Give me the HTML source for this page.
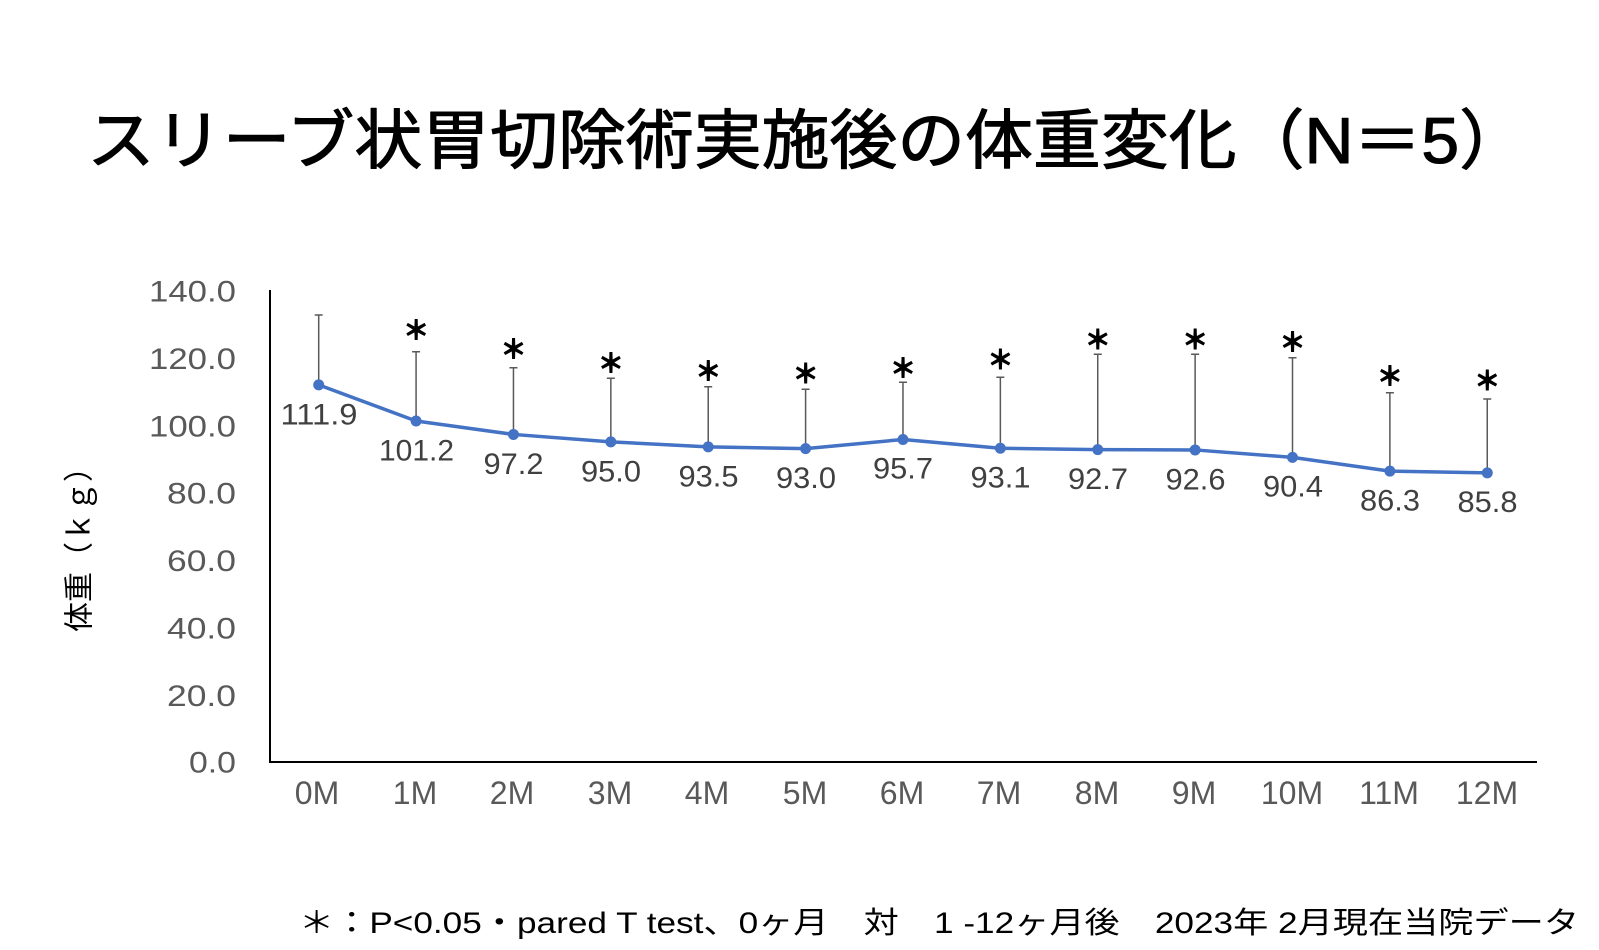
<!DOCTYPE html>
<html>
<head>
<meta charset="utf-8">
<style>
html,body{margin:0;padding:0;background:#fff;}
svg{display:block;}
text{font-family:"Liberation Sans","Noto Sans CJK JP",sans-serif;}
.tick{fill:#595959;font-size:30px;}
.dl{fill:#404040;font-size:30px;}
.ast{fill:#000;stroke:#000;stroke-width:1;font-size:26px;font-weight:bold;font-family:"Noto Sans CJK JP","Liberation Sans",sans-serif;}
</style>
</head>
<body>
<svg width="1599" height="950" viewBox="0 0 1599 950" xmlns="http://www.w3.org/2000/svg">
<rect width="1599" height="950" fill="#fff"/>

<!-- Title -->
<text x="87" y="163" font-size="65" font-weight="400" fill="#000" stroke="#000" stroke-width="1.1" stroke-linejoin="round" textLength="1440" lengthAdjust="spacingAndGlyphs">スリーブ状胃切除術実施後の体重変化（N＝5）</text>

<!-- Y axis label -->
<text transform="translate(80,542) rotate(-90)" text-anchor="middle" dominant-baseline="central" font-size="30" fill="#000" textLength="180" lengthAdjust="spacingAndGlyphs">体重（ｋｇ）</text>

<!-- Y tick labels -->
<g class="tick" text-anchor="end">
<text x="236" y="301.5" textLength="87" lengthAdjust="spacingAndGlyphs">140.0</text>
<text x="236" y="368.9" textLength="87" lengthAdjust="spacingAndGlyphs">120.0</text>
<text x="236" y="436.3" textLength="87" lengthAdjust="spacingAndGlyphs">100.0</text>
<text x="236" y="503.7" textLength="69" lengthAdjust="spacingAndGlyphs">80.0</text>
<text x="236" y="571.1" textLength="69" lengthAdjust="spacingAndGlyphs">60.0</text>
<text x="236" y="638.5" textLength="69" lengthAdjust="spacingAndGlyphs">40.0</text>
<text x="236" y="705.9" textLength="69" lengthAdjust="spacingAndGlyphs">20.0</text>
<text x="236" y="772.5" textLength="47" lengthAdjust="spacingAndGlyphs">0.0</text>
</g>

<!-- Axes -->
<line x1="270" y1="290" x2="270" y2="762" stroke="#000" stroke-width="2"/>
<line x1="269" y1="762" x2="1537" y2="762" stroke="#000" stroke-width="2"/>

<!-- X labels -->
<g class="tick" text-anchor="middle" style="font-size:32px">
<text x="317" y="804">0M</text>
<text x="415" y="804">1M</text>
<text x="512" y="804">2M</text>
<text x="610" y="804">3M</text>
<text x="707" y="804">4M</text>
<text x="805" y="804">5M</text>
<text x="902" y="804">6M</text>
<text x="999" y="804">7M</text>
<text x="1097" y="804">8M</text>
<text x="1194" y="804">9M</text>
<text x="1292" y="804">10M</text>
<text x="1389" y="804">11M</text>
<text x="1487" y="804">12M</text>
</g>

<!-- Error bars -->
<g stroke="#595959" stroke-width="1.5" fill="none">
<path d="M318.7 384.9V315M314.7 315H322.7"/>
<path d="M416.08 420.96V351.7M412.08 351.7H420.08"/>
<path d="M513.46 434.44V367.7M509.46 367.7H517.46"/>
<path d="M610.84 441.85V378.3M606.84 378.3H614.84"/>
<path d="M708.22 446.9V386.7M704.22 386.7H712.22"/>
<path d="M805.6 448.59V389.3M801.6 389.3H809.6"/>
<path d="M902.98 439.49V382.3M898.98 382.3H906.98"/>
<path d="M1000.36 448.25V377.3M996.36 377.3H1004.36"/>
<path d="M1097.74 449.6V354.3M1093.74 354.3H1101.74"/>
<path d="M1195.12 449.94V354.3M1191.12 354.3H1199.12"/>
<path d="M1292.5 457.35V357.7M1288.5 357.7H1296.5"/>
<path d="M1389.88 471.17V392.7M1385.88 392.7H1393.88"/>
<path d="M1487.26 472.85V399M1483.26 399H1491.26"/>
</g>

<!-- Series line -->
<polyline fill="none" stroke="#4472C4" stroke-width="3.5" stroke-linejoin="round" stroke-linecap="round"
points="318.7,384.9 416.08,420.96 513.46,434.44 610.84,441.85 708.22,446.9 805.6,448.59 902.98,439.49 1000.36,448.25 1097.74,449.6 1195.12,449.94 1292.5,457.35 1389.88,471.17 1487.26,472.85"/>
<g fill="#4472C4">
<circle cx="318.7" cy="384.9" r="5.5"/>
<circle cx="416.08" cy="420.96" r="5.5"/>
<circle cx="513.46" cy="434.44" r="5.5"/>
<circle cx="610.84" cy="441.85" r="5.5"/>
<circle cx="708.22" cy="446.9" r="5.5"/>
<circle cx="805.6" cy="448.59" r="5.5"/>
<circle cx="902.98" cy="439.49" r="5.5"/>
<circle cx="1000.36" cy="448.25" r="5.5"/>
<circle cx="1097.74" cy="449.6" r="5.5"/>
<circle cx="1195.12" cy="449.94" r="5.5"/>
<circle cx="1292.5" cy="457.35" r="5.5"/>
<circle cx="1389.88" cy="471.17" r="5.5"/>
<circle cx="1487.26" cy="472.85" r="5.5"/>
</g>

<!-- Data labels -->
<g class="dl" text-anchor="middle">
<text x="319" y="424.5" textLength="77" lengthAdjust="spacingAndGlyphs">111.9</text>
<text x="416.5" y="460.5" textLength="75" lengthAdjust="spacingAndGlyphs">101.2</text>
<text x="513.5" y="474" textLength="60" lengthAdjust="spacingAndGlyphs">97.2</text>
<text x="611" y="481.3" textLength="60" lengthAdjust="spacingAndGlyphs">95.0</text>
<text x="708.5" y="486.3" textLength="60" lengthAdjust="spacingAndGlyphs">93.5</text>
<text x="806" y="488" textLength="60" lengthAdjust="spacingAndGlyphs">93.0</text>
<text x="903" y="478.5" textLength="60" lengthAdjust="spacingAndGlyphs">95.7</text>
<text x="1000.5" y="487.7" textLength="60" lengthAdjust="spacingAndGlyphs">93.1</text>
<text x="1098" y="489" textLength="60" lengthAdjust="spacingAndGlyphs">92.7</text>
<text x="1195.5" y="489.3" textLength="60" lengthAdjust="spacingAndGlyphs">92.6</text>
<text x="1293" y="496.5" textLength="60" lengthAdjust="spacingAndGlyphs">90.4</text>
<text x="1390" y="510.5" textLength="60" lengthAdjust="spacingAndGlyphs">86.3</text>
<text x="1487.5" y="512" textLength="60" lengthAdjust="spacingAndGlyphs">85.8</text>
</g>

<!-- Significance asterisks -->
<g class="ast" text-anchor="middle" dominant-baseline="central">
<text x="416.08" y="330.7">＊</text>
<text x="513.46" y="349.3">＊</text>
<text x="610.84" y="363.3">＊</text>
<text x="708.22" y="371.7">＊</text>
<text x="805.6" y="374">＊</text>
<text x="902.98" y="368.3">＊</text>
<text x="1000.36" y="360">＊</text>
<text x="1097.74" y="340">＊</text>
<text x="1195.12" y="340">＊</text>
<text x="1292.5" y="342.3">＊</text>
<text x="1389.88" y="376.7">＊</text>
<text x="1487.26" y="381">＊</text>
</g>

<!-- Footer -->
<text x="299" y="933" font-size="30" fill="#000" textLength="1280" lengthAdjust="spacingAndGlyphs">＊：P&lt;0.05・pared T test、0ヶ月　対　1 -12ヶ月後　2023年 2月現在当院データ</text>
</svg>
</body>
</html>
